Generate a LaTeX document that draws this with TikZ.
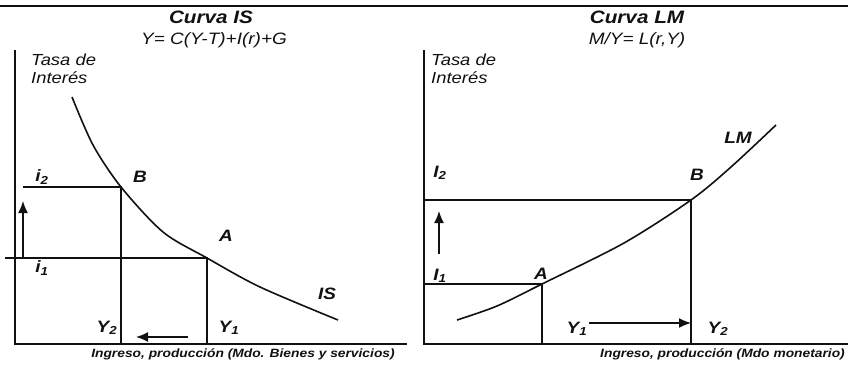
\documentclass[tikz,border=0pt]{standalone}
\usepackage{fontspec}
\setmainfont{Liberation Sans}[FakeStretch=1.15]
\usepackage{xcolor}
\usetikzlibrary{arrows.meta}
\definecolor{inkmain}{HTML}{111111}
\tikzset{every node/.append style={font=\itshape,text=inkmain,inner sep=1pt},
  axisline/.style={inkmain,line width=1.3pt},
  guideline/.style={inkmain,line width=1.2pt},
  curveline/.style={inkmain,line width=1.6pt},
  shiftarrow/.style={-{Latex[length=12pt,width=10pt]},inkmain,line width=1.5pt},
  titletext/.style={font=\fontsize{18}{20}\selectfont\bfseries\itshape},
  eqtext/.style={font=\fontsize{16.5}{18}\selectfont\itshape},
  axistext/.style={font=\fontsize{16}{18}\selectfont\itshape,align=left},
  pointtext/.style={font=\fontsize{16.5}{18}\selectfont\bfseries\itshape},
  foottext/.style={font=\fontsize{12}{14}\selectfont\bfseries\itshape}}

\begin{document}
\begin{tikzpicture}[>=Latex,x=1pt,y=-1pt]
  \useasboundingbox (0,0) rectangle (848,364);
  \draw[axisline] (0,6)--(848,6);
  % IS panel
  \coordinate (isTop) at (15,50);
  \coordinate (isO) at (15,344);
  \coordinate (isRight) at (407,344);
  \coordinate (isB) at (121,187);
  \coordinate (isA) at (207,258);
  \coordinate (isBx) at (121,344);
  \coordinate (isAx) at (207,344);
  \coordinate (isI2) at (23,187);
  \coordinate (isI1) at (5,258);
  \draw[axisline] (isTop)--(isO)--(isRight);
  \draw[guideline] (isI2)--(isB)--(isBx);
  \draw[guideline] (isI1)--(isA)--(isAx);
  \draw[curveline] plot[smooth,tension=0.5] coordinates
    {(72,97) (93,145) (isB) (163,232) (isA) (260,287) (338,320)};
  \coordinate (isUpS) at (23,257);
  \coordinate (isUpE) at (23,201);
  \coordinate (isLeftS) at (188,337);
  \coordinate (isLeftE) at (136,337);
  \draw[shiftarrow] (isUpS)--(isUpE);
  \draw[shiftarrow] (isLeftS)--(isLeftE);
  \node[titletext] (isTitle) at (211,17) {Curva IS};
  \node[eqtext] (isEq) at (214,40) {Y= C(Y-T)+I(r)+G};
  \node[axistext,anchor=west] (isTasa) at (30,69) {Tasa de\\Interés};
  \node[pointtext] (isLblB) at (140,177) {B};
  \node[pointtext] (isLblA) at (226,236) {A};
  \node[pointtext] (isLblIS) at (327,294) {IS};
  \node[pointtext] (isLblI2) at (42,177) {i\textsubscript{2}};
  \node[pointtext] (isLblI1) at (42,268) {i\textsubscript{1}};
  \node[pointtext] (isLblY2) at (107,328) {Y\textsubscript{2}};
  \node[pointtext] (isLblY1) at (229,328) {Y\textsubscript{1}};
  \node[foottext] (isFoot) at (243,354) {Ingreso, producción (Mdo. Bienes y servicios)};
  % LM panel
  \coordinate (lmTop) at (424,50);
  \coordinate (lmO) at (424,344);
  \coordinate (lmRight) at (848,344);
  \coordinate (lmB) at (691,200);
  \coordinate (lmA) at (542,284);
  \coordinate (lmBx) at (691,344);
  \coordinate (lmAx) at (542,344);
  \coordinate (lmI2) at (424,200);
  \coordinate (lmI1) at (424,284);
  \draw[axisline] (lmTop)--(lmO)--(lmRight);
  \draw[guideline] (lmI2)--(lmB)--(lmBx);
  \draw[guideline] (lmI1)--(lmA)--(lmAx);
  \draw[curveline] plot[smooth,tension=0.5] coordinates
    {(457,320) (497,306) (lmA) (624,243) (lmB) (731,167) (776,125)};
  \coordinate (lmUpS) at (439,254);
  \coordinate (lmUpE) at (439,211);
  \coordinate (lmRightS) at (589,323);
  \coordinate (lmRightE) at (691,323);
  \draw[shiftarrow] (lmUpS)--(lmUpE);
  \draw[shiftarrow] (lmRightS)--(lmRightE);
  \node[titletext] (lmTitle) at (637,17) {Curva LM};
  \node[eqtext] (lmEq) at (637,40) {M/Y= L(r,Y)};
  \node[axistext,anchor=west] (lmTasa) at (430,69) {Tasa de\\Interés};
  \node[pointtext] (lmLblB) at (697,175) {B};
  \node[pointtext] (lmLblA) at (541,274) {A};
  \node[pointtext] (lmLblLM) at (738,138) {LM};
  \node[pointtext] (lmLblI2) at (440,173) {I\textsubscript{2}};
  \node[pointtext] (lmLblI1) at (440,276) {I\textsubscript{1}};
  \node[pointtext] (lmLblY1) at (577,329) {Y\textsubscript{1}};
  \node[pointtext] (lmLblY2) at (718,329) {Y\textsubscript{2}};
  \node[foottext,anchor=east] (lmFoot) at (846,354) {Ingreso, producción (Mdo monetario)};
\end{tikzpicture}
\end{document}
